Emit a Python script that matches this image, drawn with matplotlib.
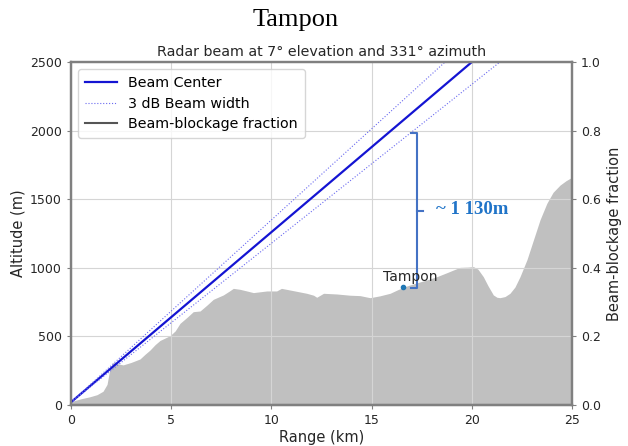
import matplotlib
matplotlib.use('Agg')
import matplotlib.pyplot as plt

# Terrain profile along the beam (range km, altitude m)
terrain_km = [0, 0.5, 0.95, 1.3, 1.6, 1.8, 1.95, 2.1, 2.35, 2.6, 3.0, 3.44, 3.7, 3.94, 4.2,
              4.44, 4.94, 5.2, 5.44, 5.8, 6.1, 6.44, 6.8, 7.1, 7.6, 7.9, 8.1, 8.43, 8.8,
              9.1, 9.77, 10.26, 10.5, 11.1, 11.76, 12.1, 12.26, 12.6, 13.26, 13.92,
              14.42, 14.92, 15.4, 15.92, 16.3, 16.75, 17.25, 17.75, 18.25, 18.75, 19.1,
              19.41, 19.8, 20.08, 20.3, 20.57, 20.8, 21.07, 21.25, 21.4, 21.65, 21.9,
              22.15, 22.4, 22.75, 23.07, 23.4, 23.74, 24.05, 24.4, 24.7, 24.9, 25]
terrain_alt = [25, 45, 60, 75, 100, 150, 270, 310, 300, 292, 310, 335, 370, 400, 440,
               470, 505, 540, 595, 640, 680, 685, 730, 770, 802, 830, 850, 843, 830,
               819, 831, 831, 850, 833, 814, 800, 785, 814, 809, 800,
               797, 782, 795, 814, 840, 867, 890, 911, 935, 964, 985,
               1003, 1005, 1008, 990, 935, 870, 802, 785, 782, 790, 814,
               860, 935, 1060, 1203, 1350, 1470, 1550, 1603, 1635, 1652, 1655]

# Beam lines (range km, altitude m)
beam_km = [0, 25]
beam_center = [20, 3120]
beam_upper = [20, 3342]
beam_lower = [20, 2917]

# Beam-blockage fraction
bbf_km = [0, 25]
bbf = [0, 0]

# Tampon site
tampon_km = 16.58
tampon_alt = 862
gap_top = 1985
gap_bottom = 850

fig = plt.figure(figsize=(6.28, 4.46), dpi=100)
ax = fig.add_axes([0.113, 0.092, 0.798, 0.769])
ax2 = ax.twinx()

spine_col = '#808080'
for a in (ax, ax2):
    for s in a.spines.values():
        s.set_color(spine_col)
        s.set_linewidth(1.6)
    a.tick_params(colors=spine_col, labelcolor='#262626', labelsize=9, length=3)

ax.fill_between(terrain_km, 0, terrain_alt, color='#c0c0c0', linewidth=0)
l1, = ax.plot(beam_km, beam_center, color='#1414d2', lw=1.6, label='Beam Center')
l2, = ax.plot(beam_km, beam_upper, color='#6a6af0', lw=0.8, ls=':', label='3 dB Beam width')
ax.plot(beam_km, beam_lower, color='#6a6af0', lw=0.8, ls=':')
l3, = ax2.plot(bbf_km, bbf, color='#555555', lw=1.5, label='Beam-blockage fraction', clip_on=False)

ax.grid(True, color='#d5d5d5', lw=0.8)
ax.set_xlim(0, 25)
ax.set_ylim(0, 2500)
ax2.set_ylim(0, 1.0)
ax.set_xticks([0, 5, 10, 15, 20, 25])
ax.set_yticks([0, 500, 1000, 1500, 2000, 2500])
ax2.set_yticks([0.0, 0.2, 0.4, 0.6, 0.8, 1.0])

ax.set_xlabel('Range (km)', fontsize=10.5, color='#262626', labelpad=2)
ax.set_ylabel('Altitude (m)', fontsize=10.5, color='#262626', labelpad=3)
ax2.set_ylabel('Beam-blockage fraction', fontsize=10.5, color='#262626', labelpad=4)
ax.set_title('Radar beam at 7° elevation and 331° azimuth', fontsize=10.3, color='#262626', pad=4)

# Tampon site and label
ax.plot([tampon_km], [tampon_alt], 'o', color='#1f77b4', ms=3)
ax.text(15.55, 880, 'Tampon', fontsize=10, color='#262626', va='bottom')

# Bracket showing the gap between beam and site
bc = '#4472c4'
bx = 17.25
ax.plot([16.95, bx, bx, 16.95], [gap_top, gap_top, gap_bottom, gap_bottom], color=bc, lw=1.5)
ax.plot([bx, 17.58], [(gap_top + gap_bottom) / 2] * 2, color=bc, lw=1.5)
ax.text(18.2, (gap_top + gap_bottom) / 2 + 10, '~ 1 130m', fontsize=13.5, fontweight='bold',
        family='Liberation Serif', color='#2074c8', va='center')

leg = ax2.legend(handles=[l1, l2, l3], loc='upper left', fontsize=10.3, handlelength=2.2,
                 borderpad=0.5, labelspacing=0.45, framealpha=0.8, edgecolor='#cccccc')

fig.text(0.471, 0.955, 'Tampon', fontsize=19, family='Liberation Serif', ha='center', va='center')

fig.savefig('out.png', dpi=100)
